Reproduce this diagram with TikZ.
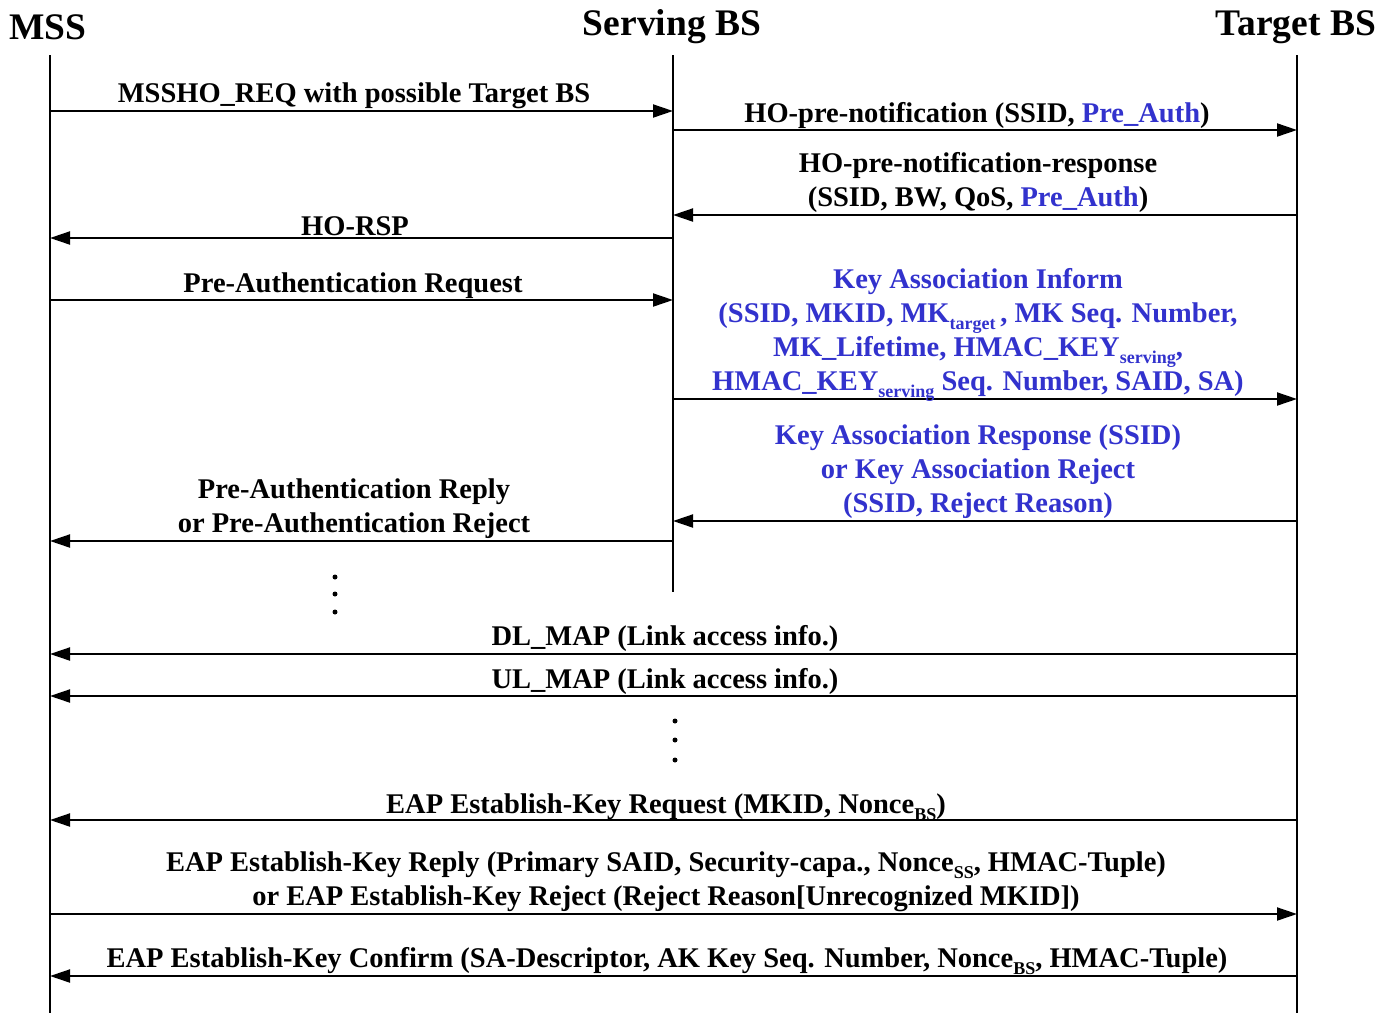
\documentclass[tikz,border=0pt]{standalone}
\usepackage{fontspec}
\setmainfont{Liberation Serif}
\usetikzlibrary{arrows.meta}
\definecolor{kblue}{RGB}{50,50,205}
\newcommand\lsub[1]{\raisebox{-7pt}{\fontsize{18}{18}\selectfont #1}}
\begin{document}
\begin{tikzpicture}[x=1pt,y=-1pt,
  life/.style={line width=1.6pt},
  msg/.style={line width=2pt,-{Triangle[length=20pt,width=13pt]}},
  lbl/.style={font=\fontsize{28.5}{34}\selectfont\bfseries, inner sep=0pt, align=center},
  blbl/.style={lbl, text=kblue},
  ttl/.style={font=\fontsize{37.5}{40}\selectfont\bfseries, inner sep=0pt},
  dotn/.style={circle, fill, inner sep=0pt, minimum size=5pt}]
\useasboundingbox (0,0) rectangle (1395,1013);

% titles
\node[ttl] (mssT) at (48,27) {MSS};
\node[ttl] (srvT) at (672,27) {Serving BS};
\node[ttl] (tgtT) at (1296,27) {Target BS};

% lifelines
\coordinate (mssTop) at (50,55);   \coordinate (mssBot) at (50,1013);
\coordinate (srvTop) at (673,55);  \coordinate (srvBot) at (673,592);
\coordinate (tgtTop) at (1297,55); \coordinate (tgtBot) at (1297,1013);
\draw[life] (mssTop) -- (mssBot);
\draw[life] (srvTop) -- (srvBot);
\draw[life] (tgtTop) -- (tgtBot);

% message end points
\coordinate (m1a) at (50,111);  \coordinate (m1b) at (673,111);
\coordinate (m2a) at (673,130); \coordinate (m2b) at (1297,130);
\coordinate (m3a) at (1297,215);\coordinate (m3b) at (673,215);
\coordinate (m4a) at (673,238); \coordinate (m4b) at (50,238);
\coordinate (m5a) at (50,300);  \coordinate (m5b) at (673,300);
\coordinate (m6a) at (673,399); \coordinate (m6b) at (1297,399);
\coordinate (m7a) at (1297,521);\coordinate (m7b) at (673,521);
\coordinate (m8a) at (673,541); \coordinate (m8b) at (50,541);
\coordinate (m9a) at (1297,654);\coordinate (m9b) at (50,654);
\coordinate (m10a) at (1297,696);\coordinate (m10b) at (50,696);
\coordinate (m11a) at (1297,820);\coordinate (m11b) at (50,820);
\coordinate (m12a) at (50,914); \coordinate (m12b) at (1297,914);
\coordinate (m13a) at (1297,976);\coordinate (m13b) at (50,976);

\draw[msg] (m1a) -- (m1b);
\draw[msg] (m2a) -- (m2b);
\draw[msg] (m3a) -- (m3b);
\draw[msg] (m4a) -- (m4b);
\draw[msg] (m5a) -- (m5b);
\draw[msg] (m6a) -- (m6b);
\draw[msg] (m7a) -- (m7b);
\draw[msg] (m8a) -- (m8b);
\draw[msg] (m9a) -- (m9b);
\draw[msg] (m10a) -- (m10b);
\draw[msg] (m11a) -- (m11b);
\draw[msg] (m12a) -- (m12b);
\draw[msg] (m13a) -- (m13b);

% labels (anchor=base: baseline of the last line)
\node[lbl, anchor=base] (l1) at (354,102) {MSSHO\_REQ with possible Target BS};
\node[lbl, anchor=base] (l2) at (977,122) {HO-pre-notification (SSID, \textcolor{kblue}{Pre\_Auth})};
\node[lbl, anchor=base] (l3) at (978,206) {HO-pre-notification-response\\(SSID, BW, QoS, \textcolor{kblue}{Pre\_Auth})};
\node[lbl, anchor=base] (l4) at (355,235) {HO-RSP};
\node[lbl, anchor=base] (l5) at (353,292) {Pre-Authentication Request};
\node[blbl, anchor=base] (l6) at (978,390) {Key Association Inform\\(SSID, MKID, MK\lsub{target}\,, MK Seq. Number,\\MK\_Lifetime, HMAC\_KEY\lsub{serving},\\HMAC\_KEY\lsub{serving} Seq. Number, SAID, SA)};
\node[blbl, anchor=base] (l7) at (978,512) {Key Association Response (SSID)\\or Key Association Reject\\(SSID, Reject Reason)};
\node[lbl, anchor=base] (l8) at (354,532) {Pre-Authentication Reply\\or Pre-Authentication Reject};
\node[lbl, anchor=base] (l9) at (665,645) {DL\_MAP (Link access info.)};
\node[lbl, anchor=base] (l10) at (665,688) {UL\_MAP (Link access info.)};
\node[lbl, anchor=base] (l11) at (666,813) {EAP Establish-Key Request (MKID, Nonce\lsub{BS})};
\node[lbl, anchor=base] (l12) at (666,905) {EAP Establish-Key Reply (Primary SAID, Security-capa., Nonce\lsub{SS}, HMAC-Tuple)\\or EAP Establish-Key Reject (Reject Reason[Unrecognized MKID])};
\node[lbl, anchor=base] (l13) at (667,967) {EAP Establish-Key Confirm (SA-Descriptor, AK Key Seq. Number, Nonce\lsub{BS}, HMAC-Tuple)};

% ellipsis dots
\node[dotn] (d1) at (335,577) {};
\node[dotn] (d2) at (335,594) {};
\node[dotn] (d3) at (335,612) {};
\node[dotn] (d4) at (675,721) {};
\node[dotn] (d5) at (675,740) {};
\node[dotn] (d6) at (675,760) {};
\end{tikzpicture}
\end{document}
